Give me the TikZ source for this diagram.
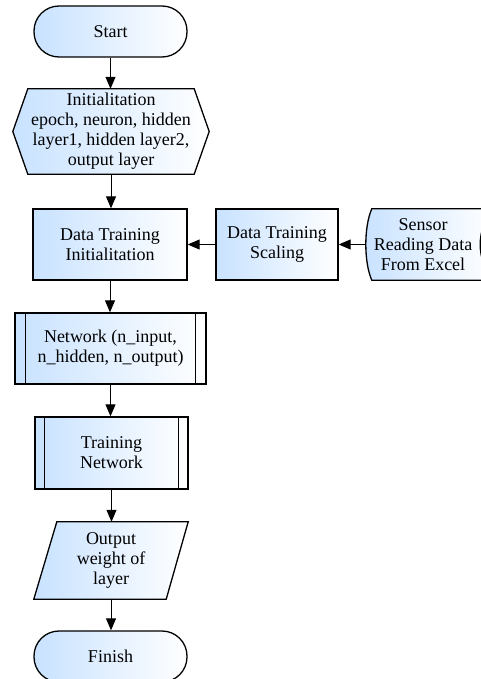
\documentclass[tikz,border=0pt]{standalone}
\usepackage{fontspec}
\setmainfont{Liberation Serif}
\newfontfamily\diagfont{Liberation Serif}
\usetikzlibrary{arrows.meta,calc,backgrounds}
\definecolor{lb}{RGB}{200,226,255}
\tikzset{
 fillgrad/.style={left color=lb,right color=white},
 shapeline/.style={draw=black,line width=1.3pt},
 txt/.style={align=center,font=\diagfont\fontsize{18}{20}\selectfont,inner sep=0pt},
 box/.style={txt,shapeline,fillgrad},
 arr/.style={-{Triangle[length=12pt,width=10pt]},line width=1pt},
}
\begin{document}
\begin{tikzpicture}[x=1pt,y=1pt]
\useasboundingbox (0,0) rectangle (481,-679);
% nodes
\node[box,rounded corners=25pt,minimum width=153pt,minimum height=51pt] (start) at (110.5,-31.5) {Start};
\node[txt,minimum width=196pt,minimum height=85pt] (init) at (111,-131.5) {Initialitation\\epoch, neuron, hidden\\layer1, hidden layer2,\\output layer};
\node[box,minimum width=154pt,minimum height=71pt] (dti) at (110,-244.5) {Data Training\\Initialitation};
\node[box,minimum width=122pt,minimum height=71pt] (scal) at (277,-244.5) {Data Training\\Scaling};
\node[txt,minimum width=114pt,minimum height=71pt] (sensor) at (423,-244.5) {Sensor\\Reading Data\\From Excel};
\node[box,minimum width=191pt,minimum height=71pt] (net) at (110.5,-348.5) {Network (n\_input,\\n\_hidden, n\_output)};
\node[box,minimum width=153pt,minimum height=72pt] (train) at (111.5,-453) {Training\\Network};
\node[txt,minimum width=154pt,minimum height=77pt] (out) at (111,-560.5) {Output\\weight of\\layer};
\node[box,rounded corners=25pt,minimum width=153pt,minimum height=51pt] (finish) at (110.5,-656.5) {Finish};
% shapes drawn behind text
\begin{scope}[on background layer]
\path[shapeline,fillgrad] ($(init.north west)+(15,0)$) -- ($(init.north east)+(-15,0)$) -- (init.east)
  -- ($(init.south east)+(-15,0)$) -- ($(init.south west)+(15,0)$) -- (init.west) -- cycle;
\path[shapeline,fillgrad] ($(sensor.north west)+(6,0)$) -- ($(sensor.north east)+(12,0)$)
  .. controls ($(sensor.north east)+(-4,-23)$) and ($(sensor.south east)+(-4,23)$) .. ($(sensor.south east)+(12,0)$)
  -- ($(sensor.south west)+(6,0)$)
  .. controls ($(sensor.south west)+(-2,18)$) and ($(sensor.north west)+(-2,-18)$) .. cycle;
\path[shapeline,fillgrad] ($(out.north west)+(23,0)$) -- (out.north east) -- ($(out.south east)+(-22,0)$) -- (out.south west) -- cycle;
\end{scope}
% predefined process inner lines
\draw[shapeline] ($(net.north west)+(11,0)$) -- ($(net.south west)+(11,0)$);
\draw[shapeline] ($(net.north east)+(-11,0)$) -- ($(net.south east)+(-11,0)$);
\draw[shapeline] ($(train.north west)+(10,0)$) -- ($(train.south west)+(10,0)$);
\draw[shapeline] ($(train.north east)+(-10,0)$) -- ($(train.south east)+(-10,0)$);
% connectors
\draw[arr] (start.south) -- (start.south |- init.north);
\draw[arr] (init.south) -- (init.south |- dti.north);
\draw[arr] (sensor.west) -- (scal.east);
\draw[arr] (scal.west) -- (dti.east);
\draw[arr] (dti.south) -- (dti.south |- net.north);
\draw[arr] (net.south) -- (net.south |- train.north);
\draw[arr] (train.south) -- (train.south |- out.north);
\draw[arr] (out.south) -- (out.south |- finish.north);
\end{tikzpicture}
\end{document}
